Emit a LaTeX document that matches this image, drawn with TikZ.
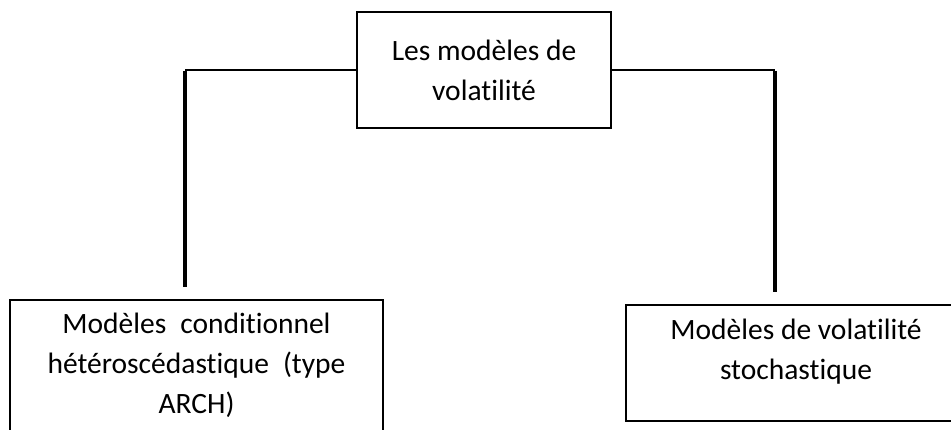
\documentclass[tikz,border=0pt]{standalone}
\usepackage{fontspec}
\setmainfont{Carlito}[Ligatures=NoCommon]
\begin{document}
\begin{tikzpicture}[x=1pt,y=-1pt,
  box/.style={draw, line width=1.4pt, inner sep=0pt, align=center,
    font=\fontsize{29.5}{40}\selectfont},
  txt/.style={align=center, inner sep=0pt, font=\fontsize{29.5}{40}\selectfont},
  thin/.style={line width=1.4pt},
  thick3/.style={line width=3.2pt}]
\useasboundingbox (0,0) rectangle (951,429);
\clip (0,0) rectangle (951,429);
\node[box, minimum width=254pt, minimum height=116pt] (top) at (484,70) {Les modèles de\\volatilité};
\node[box, minimum width=373pt, minimum height=144pt] (left) at (196.5,372) {};
\node[txt] (lefttxt) at (196.5,365) {Modèles\hspace{0.25em} conditionnel\\hétéroscédastique\hspace{0.25em} (type\\ARCH)};
\node[box, minimum width=380pt, minimum height=116pt] (right) at (816,363) {};
\node[txt] (righttxt) at (796,352) {Modèles de volatilité\\stochastique};
\coordinate (lc) at (185,70);
\coordinate (le) at (185,287);
\coordinate (rc) at (775,70);
\coordinate (re) at (775,292);
\draw[thin] (top.west) -- (lc);
\draw[thin] (top.east) -- (rc);
\draw[thick3] ([yshift=-0.7pt]lc) -- (le);
\draw[thick3] ([yshift=-0.7pt]rc) -- (re);
\end{tikzpicture}
\end{document}
